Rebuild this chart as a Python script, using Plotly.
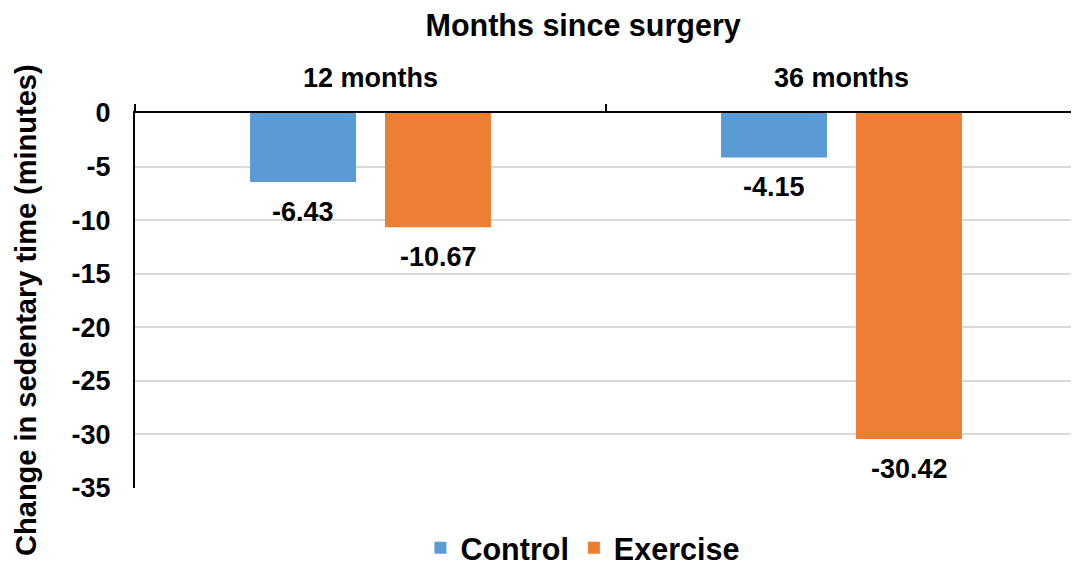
import plotly.graph_objects as go

categories = ["12 months", "36 months"]
control = [-6.43, -4.15]
exercise = [-10.67, -30.42]
series_names = ["Control", "Exercise"]
tick_vals = [0, -5, -10, -15, -20, -25, -30, -35]
tick_text = ["0", "-5", "-10", "-15", "-20", "-25", "-30", "-35"]

colors = ["#5B9BD5", "#ED7D31"]
FONT = "Liberation Sans, Arial, Helvetica, sans-serif"

fig = go.Figure()
for name, vals, col in zip(series_names, [control, exercise], colors):
    fig.add_trace(go.Bar(x=categories, y=vals, name=name, marker_color=col,
                         marker_line_width=0))

# data labels below bars
for vals, shift in zip([control, exercise], [-67.5, 67.5]):
    for c, v in zip(categories, vals):
        fig.add_annotation(x=c, y=v, text=f"<b>{v:.2f}</b>", showarrow=False,
                           xshift=shift, yshift=-30, yanchor="middle",
                           font=dict(size=27, color="black", family=FONT))

fig.add_annotation(text="<b>Change in sedentary time (minutes)</b>", textangle=-90,
                   xref="paper", yref="paper", x=-0.1157, y=0.475, showarrow=False,
                   xanchor="center", yanchor="middle",
                   font=dict(size=29, color="black", family=FONT))

# page body has an 8px margin; the plot area is placed in figure coordinates so
# that it lands on the reference's screen position
fig.update_layout(
    width=1071, height=570,
    margin=dict(l=127, r=2, t=105, b=90, autoexpand=False),
    paper_bgcolor="white", plot_bgcolor="white",
    barmode="group", bargap=0.427, bargroupgap=0.215,
    font=dict(family=FONT, color="black"),
    title=dict(text="<b>Months since surgery</b>", x=0.537, xanchor="center",
               y=0.9702, yanchor="middle", font=dict(size=30.5, color="black")),
    xaxis=dict(side="top", showline=True, linecolor="black", linewidth=2,
               ticks="outside", tickson="boundaries", ticklen=7, tickcolor="black",
               tickwidth=2, tickfont=dict(size=27, color="black", family=FONT, weight="bold"),
               showgrid=False, ticklabelstandoff=13, automargin=False),
    yaxis=dict(range=[-35, 0], tickvals=tick_vals, ticktext=tick_text, showline=True,
               linecolor="black", linewidth=2, showgrid=True, gridcolor="#D9D9D9",
               gridwidth=1.5, zeroline=False, ticks="", ticklabelstandoff=17,
               automargin=False,
               tickfont=dict(size=27, color="black", family=FONT, weight="bold")),
    legend=dict(orientation="h", x=0.475, xanchor="center", y=-0.16, yanchor="middle",
                font=dict(size=30.5, color="black", family=FONT, weight="bold"),
                itemwidth=30, traceorder="normal"),
)

fig.write_html("out.html")
